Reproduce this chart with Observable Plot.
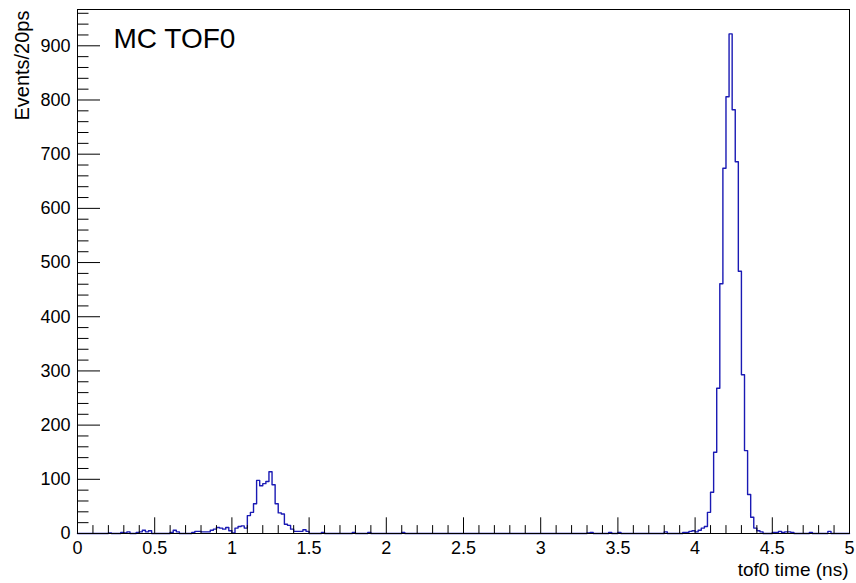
<!DOCTYPE html>
<html>
<head>
<meta charset="utf-8">
<script src="https://cdn.jsdelivr.net/npm/d3@7"></script>
<script src="https://cdn.jsdelivr.net/npm/@observablehq/plot@0.6"></script>
<style>
  html, body { margin: 0; padding: 0; background: #fff; }
  #chart { width: 856px; height: 583px; }
</style>
</head>
<body>
<div id="chart"></div>
<script>
// ---- data ----
const title = "MC TOF0";
const xTitle = "tof0 time (ns)";
const yTitle = "Events/20ps";
const xMin = 0, xMax = 5, binWidth = 0.02;
const yMax = 967;
const xTicks = [0, 0.5, 1, 1.5, 2, 2.5, 3, 3.5, 4, 4.5, 5];
const xTickLabels = ["0", "0.5", "1", "1.5", "2", "2.5", "3", "3.5", "4", "4.5", "5"];
const yTicks = [0, 100, 200, 300, 400, 500, 600, 700, 800, 900];
const yTickLabels = ["0", "100", "200", "300", "400", "500", "600", "700", "800", "900"];

// scattered low-count bins (bin index, counts)
const noiseBins   = [10, 14, 15, 16, 19, 20, 21, 22, 23, 30, 31, 32, 37, 38, 39, 40, 41, 42,
                     79, 89, 94, 105, 165, 166, 172, 175, 190, 196, 197, 198, 199, 200,
                     237, 243];
const noiseCounts = [1, 2, 1, 3, 2, 3, 6, 3, 5, 2, 6, 3, 2, 4, 4, 3, 3, 3,
                     2, 2, 2, 2, 1, 2, 2, 2, 3, 2, 2, 4, 5, 3,
                     2, 4];

// small peak near 1.2 ns, starting at bin 43
const peak1Start = 43;
const peak1Counts = [6, 8, 11, 10, 8, 11, 5, 1, 10, 13, 14, 10, 33, 39, 55, 98, 88, 92, 96, 114,
                     90, 55, 38, 36, 17, 15, 8, 4, 4, 4, 7, 4];

// main peak near 4.23 ns, starting at bin 201
const peak2Start = 201;
const peak2Counts = [6, 10, 13, 39, 76, 150, 268, 461, 674, 806, 922, 782, 686, 484, 293, 153,
                     72, 30, 10, 5, 3, 0, 0, 0, 2, 2, 4, 2, 3, 3, 2];

// ---- build histogram table ----
const nBins = Math.round((xMax - xMin) / binWidth);
const counts = new Array(nBins).fill(0);
noiseBins.forEach((b, i) => { counts[b] = noiseCounts[i]; });
peak1Counts.forEach((c, i) => { counts[peak1Start + i] = c; });
peak2Counts.forEach((c, i) => { counts[peak2Start + i] = c; });
const steps = counts.map((c, i) => ({x: xMin + i * binWidth, y: c}));
steps.push({x: xMax, y: counts[nBins - 1]});

const xMinor = d3.range(0, 51).map(i => i / 10).filter(v => !xTicks.some(t => Math.abs(t - v) < 1e-9));
const yMinor = d3.range(0, yMax + 1, 20).filter(v => v % 100 !== 0);

const W = 856, H = 583;
const mL = 77, mR = 7, mT = 9, mB = 50;
const frameW = W - mL - mR, frameH = H - mT - mB;
const xMajorLen = 15.7, xMinorLen = 7.9, yMajorLen = 23, yMinorLen = 11.5;

const plot = Plot.plot({
  width: W,
  height: H,
  marginLeft: mL,
  marginRight: mR,
  marginTop: mT,
  marginBottom: mB,
  style: {fontFamily: "'Liberation Sans', Arial, Helvetica, sans-serif", fontSize: "18px", background: "#fff", color: "#000"},
  x: {domain: [xMin, xMax]},
  y: {domain: [0, yMax]},
  marks: [
    Plot.lineY(steps, {x: "x", y: "y", curve: "step-after", stroke: "#1a1ab4", strokeWidth: 1.4}),
    // ticks inside the frame (ROOT style)
    Plot.ruleX(xTicks, {x: d => d, stroke: "#000", strokeWidth: 1, insetTop: frameH - xMajorLen}),
    Plot.ruleX(xMinor, {x: d => d, stroke: "#000", strokeWidth: 1, insetTop: frameH - xMinorLen}),
    Plot.ruleY(yTicks, {y: d => d, stroke: "#000", strokeWidth: 1, insetRight: frameW - yMajorLen}),
    Plot.ruleY(yMinor, {y: d => d, stroke: "#000", strokeWidth: 1, insetRight: frameW - yMinorLen}),
    Plot.axisX({ticks: xTicks, tickSize: 0, tickPadding: 8, tickFormat: (d, i) => xTickLabels[i], label: null, fontSize: 18}),
    Plot.axisY({ticks: yTicks, tickSize: 0, tickPadding: 7, tickFormat: (d, i) => yTickLabels[i], label: null, fontSize: 18}),
    Plot.frame({stroke: "#000", strokeWidth: 1}),
    Plot.text([xTitle], {frameAnchor: "bottom-right", text: d => d, dx: -1, dy: 42, textAnchor: "end", lineAnchor: "bottom", fontSize: 19}),
    Plot.text([yTitle], {frameAnchor: "top-left", text: d => d, dx: -55, dy: 1, rotate: -90, textAnchor: "end", lineAnchor: "middle", fontSize: 20}),
    Plot.text([title], {frameAnchor: "top-left", text: d => d, dx: 36, dy: 38, textAnchor: "start", lineAnchor: "bottom", fontSize: 28})
  ]
});
document.getElementById("chart").appendChild(plot);
</script>
</body>
</html>
